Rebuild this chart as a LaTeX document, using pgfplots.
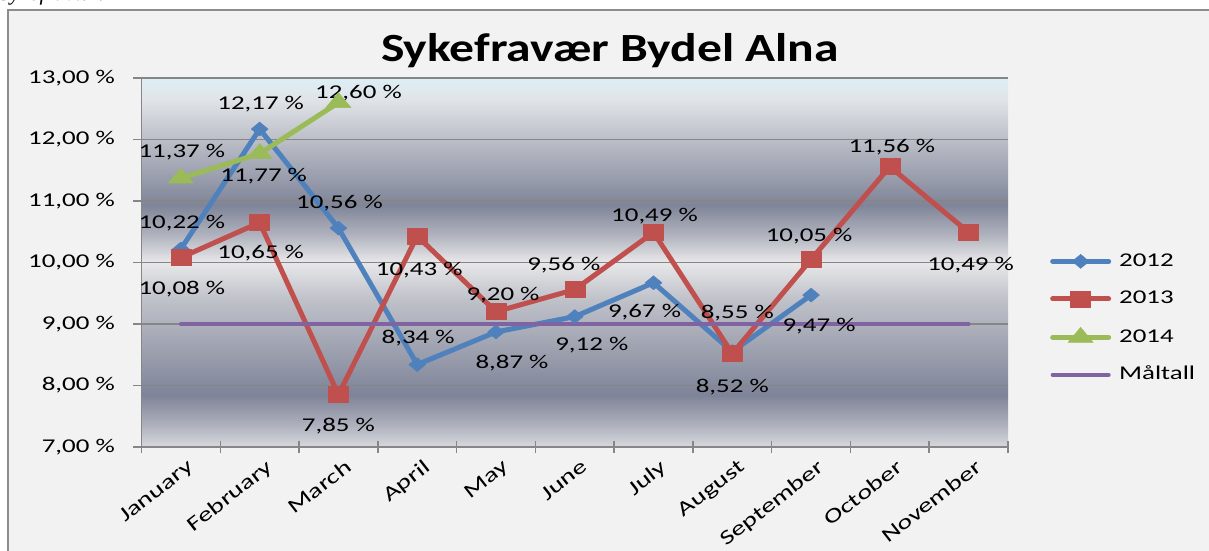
\documentclass[border=0pt]{standalone}
\usepackage{pgfplots}
\pgfplotsset{compat=1.18}
\usepackage{fontspec}
\setmainfont{Carlito}[FakeStretch=1.38]
\newfontfamily\titlefont{Carlito}[FakeStretch=1.24]
\newfontfamily\serifit{Liberation Serif}
\definecolor{c12}{HTML}{4F81BD}
\definecolor{c13}{HTML}{C0504D}
\definecolor{c14}{HTML}{9BBB59}
\definecolor{cmaal}{HTML}{8064A2}
\definecolor{bgc}{HTML}{F2F2F2}
\definecolor{boxc}{HTML}{8C8C8C}
\definecolor{gridc}{HTML}{868686}
\definecolor{s0}{HTML}{D8D9DE}
\definecolor{s1}{HTML}{AEB1BD}
\definecolor{s2}{HTML}{7E8398}
\definecolor{s3}{HTML}{9DA1AF}
\definecolor{s4}{HTML}{BFC1C9}
\definecolor{s5}{HTML}{E8E8EA}
\definecolor{s6}{HTML}{B0B3BE}
\definecolor{s7}{HTML}{7F8498}
\definecolor{s8}{HTML}{A0A4B2}
\definecolor{s9}{HTML}{C4C7CE}
\definecolor{s10}{HTML}{E0E4E8}
\definecolor{s11}{HTML}{DDEFF5}
\pgfdeclareverticalshading{plotbg}{100bp}{color(0bp)=(s0); color(25bp)=(s0); color(27.98bp)=(s1); color(32.05bp)=(s2); color(38.14bp)=(s3); color(44.92bp)=(s4); color(50.07bp)=(s5); color(53.73bp)=(s6); color(57.79bp)=(s7); color(62.53bp)=(s8); color(67.95bp)=(s9); color(72.02bp)=(s10); color(75bp)=(s11); color(100bp)=(s11)}
\newcommand\lblfont{\fontsize{19.5}{22}\selectfont}
\newcommand\catfont{\fontsize{20.3}{23}\selectfont}
\tikzset{lbl/.style={anchor=base, inner sep=0pt, font=\lblfont, text=black}}
\newcommand\lab[5]{\node[lbl, xshift=#3pt, yshift=#4pt-6.2pt] at (axis cs:#1,#2) {#5};}
\begin{document}
\begin{tikzpicture}
\useasboundingbox (0pt,0pt) rectangle (1209pt,551pt);
\fill[white] (0pt,0pt) rectangle (1209pt,551pt);
\filldraw[fill=bgc, draw=boxc, line width=1.2pt] (8pt,-10pt) rectangle (1225pt,541pt);
\node[anchor=base west, inner sep=0pt, font=\serifit\itshape\fontsize{22}{24}\selectfont] at (-1pt,550pt) {Sykefravær:};
\node[anchor=base, inner sep=0pt, font=\titlefont\bfseries\fontsize{40}{44}\selectfont] at (610pt,489pt) {Sykefravær Bydel Alna};
\begin{axis}[
  at={(141.5pt,104pt)}, anchor=south west,
  scale only axis, width=866.5pt, height=369pt,
  xmin=-0.5, xmax=10.5, ymin=7, ymax=13,
  xtick={0,...,10},
  xticklabels={January,February,March,April,May,June,July,August,September,October,November},
  minor xtick={-0.5,0.5,...,10.5},
  ytick={7,...,13},
  yticklabels={\mbox{7,00 \%},\mbox{8,00 \%},\mbox{9,00 \%},\mbox{10,00 \%},\mbox{11,00 \%},\mbox{12,00 \%},\mbox{13,00 \%}},
  axis x line*=bottom, axis y line*=left,
  axis line style={gridc, line width=1.5pt, -},
  ymajorgrids, major grid style={gridc, line width=1.2pt},
  xtick align=center, ytick align=outside,
  major tick length=8.5pt, minor tick length=12pt,
  major x tick style={draw=none},
  minor x tick style={gridc, line width=1.5pt},
  major y tick style={gridc, line width=1.5pt},
  tick label style={font=\lblfont},
  xticklabel style={font=\catfont, rotate=38, anchor=north east, inner sep=1pt, yshift=-8pt, xshift=1pt},
  yticklabel style={anchor=east, inner sep=0pt, xshift=-18pt},
  axis background/.style={shading=plotbg},
  clip=false,
  legend style={at={(1.0484,0.528)}, anchor=north west, draw=none, fill=none, inner sep=0pt, font=\lblfont, row sep=19.5pt, column sep=8pt, nodes={inner sep=0pt, text height=14pt, text depth=4pt}},
  legend cell align=left,
  legend image code/.code={\draw[mark repeat=2, mark phase=2, #1] plot coordinates {(0pt,0pt) (28pt,0pt) (56pt,0pt)};},
  every axis plot/.append style={line join=round, line cap=round},
]
\addplot[c12, line width=5pt, mark=diamond*, mark size=7pt, mark options={xscale=1.6, solid, fill=c12, line width=0.5pt}]
 coordinates {(0,10.22)(1,12.17)(2,10.56)(3,8.34)(4,8.87)(5,9.12)(6,9.67)(7,8.55)(8,9.47)};
\addlegendentry{2012}
\addplot[c13, line width=5pt, mark=square*, mark size=8pt, mark options={xscale=1.25, solid, fill=c13, line width=0.5pt}]
 coordinates {(0,10.08)(1,10.65)(2,7.85)(3,10.43)(4,9.20)(5,9.56)(6,10.49)(7,8.52)(8,10.05)(9,11.56)(10,10.49)};
\addlegendentry{2013}
\addplot[c14, line width=5pt, mark=triangle*, mark size=10pt, mark options={xscale=1.45, solid, fill=c14, line width=0.5pt}]
 coordinates {(0,11.37)(1,11.77)(2,12.60)};
\addlegendentry{2014}
\addplot[cmaal, line width=4pt, no marks]
 coordinates {(0,9)(1,9)(2,9)(3,9)(4,9)(5,9)(6,9)(7,9)(8,9)(9,9)(10,9)};
\addlegendentry{Måltall}
% 2012 labels
\lab{0}{10.22}{1}{27}{10,22 \%}
\lab{1}{12.17}{1}{26}{12,17 \%}
\lab{2}{10.56}{1}{26}{10,56 \%}
\lab{3}{8.34}{1}{27}{8,34 \%}
\lab{4}{8.87}{16}{-30}{8,87 \%}
\lab{5}{9.12}{17}{-28}{9,12 \%}
\lab{6}{9.67}{-9}{-29}{9,67 \%}
\lab{7}{8.55}{5}{39}{8,55 \%}
\lab{8}{9.47}{8}{-30}{9,47 \%}
% 2013 labels
\lab{0}{10.08}{1}{-31}{10,08 \%}
\lab{1}{10.65}{1}{-30}{10,65 \%}
\lab{2}{7.85}{0}{-31}{7,85 \%}
\lab{3}{10.43}{2}{-33}{10,43 \%}
\lab{4}{9.20}{7}{17}{9,20 \%}
\lab{5}{9.56}{-11}{25}{9,56 \%}
\lab{6}{10.49}{1}{17}{10,49 \%}
\lab{7}{8.52}{0}{-32.5}{8,52 \%}
\lab{8}{10.05}{-2}{24}{10,05 \%}
\lab{9}{11.56}{2}{20.6}{11,56 \%}
\lab{10}{10.49}{2}{-31.6}{10,49 \%}
% 2014 labels
\lab{0}{11.37}{1}{27}{11,37 \%}
\lab{1}{11.77}{4}{-22}{11,77 \%}
\lab{2}{12.60}{20}{10}{12,60 \%}
\end{axis}
\end{tikzpicture}
\end{document}
